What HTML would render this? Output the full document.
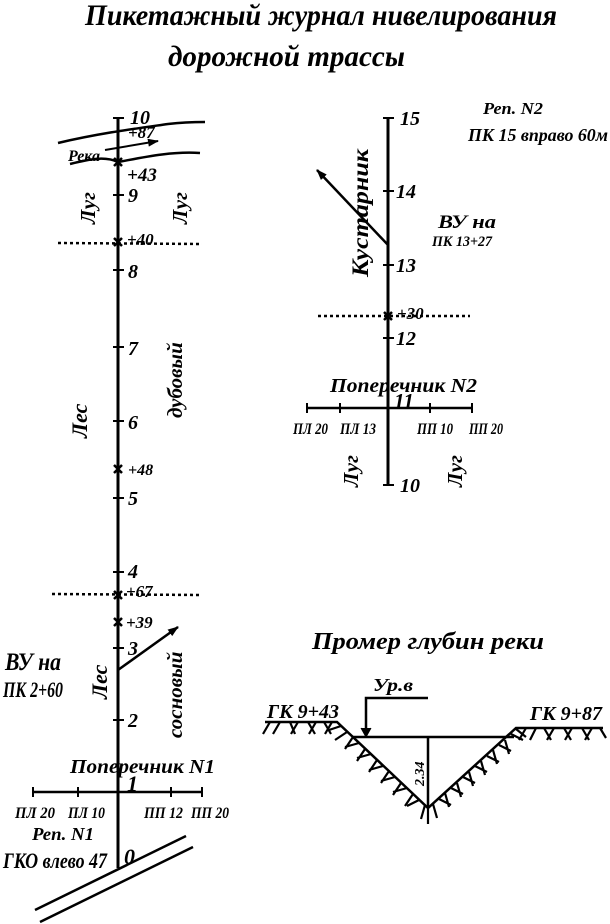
<!DOCTYPE html>
<html><head><meta charset="utf-8"><style>
html,body{margin:0;padding:0;background:#fff;}
svg{display:block;}
text{font-family:"Liberation Serif",serif;font-style:italic;font-weight:bold;fill:#000;}
</style></head><body>
<svg width="610" height="924" viewBox="0 0 610 924" xmlns="http://www.w3.org/2000/svg">
<defs><marker id="ah" markerWidth="11" markerHeight="8" refX="10" refY="4" orient="auto" markerUnits="userSpaceOnUse"><path d="M0,0 L11,4 L0,8 z" fill="#000"/></marker></defs>
<text x="85" y="25" font-size="30" textLength="472" lengthAdjust="spacingAndGlyphs">Пикетажный журнал нивелирования</text>
<text x="168" y="66" font-size="30" textLength="237" lengthAdjust="spacingAndGlyphs">дорожной трассы</text>

<g stroke="#000" fill="none">
<line x1="118" y1="118" x2="118" y2="868" stroke-width="3"/>
<g stroke-width="2">
<line x1="113" y1="118" x2="124" y2="118"/>
<line x1="113" y1="195" x2="124" y2="195"/>
<line x1="113" y1="270" x2="124" y2="270"/>
<line x1="113" y1="347" x2="124" y2="347"/>
<line x1="113" y1="421" x2="124" y2="421"/>
<line x1="113" y1="498" x2="124" y2="498"/>
<line x1="113" y1="572" x2="124" y2="572"/>
<line x1="113" y1="648" x2="124" y2="648"/>
<line x1="113" y1="720" x2="124" y2="720"/>
</g>
<g stroke-width="2.5">
<path d="M114,158 l8,8 M122,158 l-8,8"/>
<path d="M114,238 l8,8 M122,238 l-8,8"/>
<path d="M114,465 l8,8 M122,465 l-8,8"/>
<path d="M114,591 l8,8 M122,591 l-8,8"/>
<path d="M114,618 l8,8 M122,618 l-8,8"/>
</g>
<path d="M58,143 C100,133 140,128 168,124 C185,122 198,122 205,122" stroke-width="2.5"/>
<path d="M70,164 C90,159 105,156 118,162 C140,158 170,151 200,153" stroke-width="2.5"/>
<line x1="105" y1="150" x2="158" y2="141" stroke-width="2" marker-end="url(#ah)"/>
<line x1="58" y1="243" x2="202" y2="244" stroke-width="2.5" stroke-dasharray="3,3"/>
<line x1="52" y1="594" x2="200" y2="595" stroke-width="2.5" stroke-dasharray="3,3"/>
<line x1="118" y1="670" x2="178" y2="627" stroke-width="2.5" marker-end="url(#ah)"/>
<line x1="33" y1="792" x2="202" y2="792" stroke-width="2.5"/>
<g stroke-width="2"><line x1="33" y1="787" x2="33" y2="797"/><line x1="78" y1="787" x2="78" y2="797"/><line x1="171" y1="787" x2="171" y2="797"/><line x1="202" y1="787" x2="202" y2="797"/></g>
<line x1="35" y1="910" x2="186" y2="836" stroke-width="2.5"/>
<line x1="40" y1="922" x2="193" y2="847" stroke-width="2.5"/>

<line x1="388" y1="118" x2="388" y2="485" stroke-width="3"/>
<g stroke-width="2">
<line x1="383" y1="118" x2="394" y2="118"/>
<line x1="383" y1="191" x2="394" y2="191"/>
<line x1="383" y1="265" x2="394" y2="265"/>
<line x1="383" y1="338" x2="394" y2="338"/>
<line x1="383" y1="485" x2="394" y2="485"/>
<path d="M384,312 l8,8 M392,312 l-8,8" stroke-width="2.5"/>
</g>
<line x1="318" y1="316" x2="470" y2="316" stroke-width="2.5" stroke-dasharray="3,3"/>
<line x1="388" y1="245" x2="317" y2="170" stroke-width="2.5" marker-end="url(#ah)"/>
<line x1="307" y1="408" x2="472" y2="408" stroke-width="2.5"/>
<g stroke-width="2"><line x1="307" y1="403" x2="307" y2="413"/><line x1="340" y1="403" x2="340" y2="413"/><line x1="430" y1="403" x2="430" y2="413"/><line x1="472" y1="403" x2="472" y2="413"/></g>

<g stroke-width="2.5">
<polyline points="265,722 337,722 428,808 516,728 603,728"/>
<line x1="353" y1="737" x2="514" y2="737"/>
<line x1="428" y1="737" x2="428" y2="808"/>
<polyline points="428,698 366,698 366,732"/>
</g>
<path d="M361,728 L366,737 L371,728" fill="#000" stroke-width="1"/>
<g stroke-width="2.2">
<path d="M270,722 l-7,12 M280,722 l-7,12 M290,722 l5,12 M298,722 l-7,12 M308,722 l7,12 M316,722 l-7,12 M324,722 l7,12 M332,722 l-7,12"/>
<path d="M341,726 l-12,4 M347,732 l-12,8 M353,737 l-8,12 M359,743 l-14,4 M365,749 l-8,12 M371,754 l-14,4 M377,760 l-8,12 M383,766 l-14,4 M389,771 l-8,12 M395,777 l-14,4 M401,783 l-8,12 M407,788 l-14,4 M413,794 l-8,12 M419,800 l-12,6 M425,805 l-4,14"/>
<path d="M428,808 l0,16 M433,804 l4,14 M439,799 l12,6 M445,793 l4,14 M451,788 l12,6 M457,783 l4,14 M463,777 l12,6 M469,772 l4,14 M475,766 l12,6 M481,761 l4,14 M487,756 l12,6 M493,750 l4,14 M499,745 l12,6 M505,740 l4,14 M511,734 l12,6 M516,729 l10,8"/>
<path d="M526,728 l-7,12 M536,728 l-6,12 M544,728 l7,12 M554,728 l-7,12 M564,728 l7,12 M572,728 l-7,12 M582,728 l7,12 M592,728 l-7,12 M600,728 l6,10"/>
</g>
</g>

<text x="130" y="124" font-size="20">10</text>
<text x="128" y="138" font-size="17">+87</text>
<text x="127" y="181" font-size="19">+43</text>
<text x="128" y="202" font-size="20">9</text>
<text x="127" y="245" font-size="17">+40</text>
<text x="128" y="278" font-size="20">8</text>
<text x="128" y="355" font-size="20">7</text>
<text x="128" y="429" font-size="20">6</text>
<text x="128" y="475" font-size="16">+48</text>
<text x="128" y="505" font-size="20">5</text>
<text x="128" y="578" font-size="20">4</text>
<text x="126" y="597" font-size="17">+67</text>
<text x="126" y="628" font-size="17">+39</text>
<text x="128" y="655" font-size="20">3</text>
<text x="128" y="727" font-size="20">2</text>
<text x="127" y="791" font-size="22">1</text>
<text x="124" y="864" font-size="22">0</text>
<text x="68" y="161" font-size="16">Река</text>
<text font-size="21" transform="translate(95,224) rotate(-90)">Луг</text>
<text font-size="21" transform="translate(187,224) rotate(-90)">Луг</text>
<text font-size="22" transform="translate(87,438) rotate(-90)">Лес</text>
<text font-size="21" transform="translate(182,418) rotate(-90)">дубовый</text>
<text font-size="22" transform="translate(107,699) rotate(-90)">Лес</text>
<text font-size="21" transform="translate(182,738) rotate(-90)">сосновый</text>
<text x="5" y="670" font-size="25" textLength="56" lengthAdjust="spacingAndGlyphs">ВУ на</text>
<text x="3" y="697" font-size="22" font-style="normal" textLength="60" lengthAdjust="spacingAndGlyphs">ПК 2+60</text>
<text x="70" y="773" font-size="20" textLength="145" lengthAdjust="spacingAndGlyphs">Поперечник N1</text>
<text x="15" y="818" font-size="16" textLength="40" lengthAdjust="spacingAndGlyphs">ПЛ 20</text>
<text x="68" y="818" font-size="16" textLength="37" lengthAdjust="spacingAndGlyphs">ПЛ 10</text>
<text x="144" y="818" font-size="16" textLength="39" lengthAdjust="spacingAndGlyphs">ПП 12</text>
<text x="191" y="818" font-size="16" textLength="38" lengthAdjust="spacingAndGlyphs">ПП 20</text>
<text x="32" y="840" font-size="18" textLength="62" lengthAdjust="spacingAndGlyphs">Реп. N1</text>
<text x="3" y="868" font-size="22" textLength="104" lengthAdjust="spacingAndGlyphs">ГКО влево 47</text>

<text x="400" y="125" font-size="20">15</text>
<text x="396" y="198" font-size="20">14</text>
<text x="396" y="272" font-size="20">13</text>
<text x="397" y="319" font-size="17">+30</text>
<text x="396" y="345" font-size="20">12</text>
<text x="394" y="408" font-size="21">11</text>
<text x="400" y="492" font-size="20">10</text>
<text x="483" y="114" font-size="17" textLength="60" lengthAdjust="spacingAndGlyphs">Реп. N2</text>
<text x="468" y="141" font-size="18" textLength="140" lengthAdjust="spacingAndGlyphs">ПК 15 вправо 60м</text>
<text x="438" y="228" font-size="19" textLength="58" lengthAdjust="spacingAndGlyphs">ВУ на</text>
<text x="432" y="246" font-size="15" textLength="60" lengthAdjust="spacingAndGlyphs">ПК 13+27</text>
<text font-size="23" transform="translate(368,277) rotate(-90)" textLength="128" lengthAdjust="spacingAndGlyphs">Кустарник</text>
<text x="330" y="392" font-size="20" textLength="147" lengthAdjust="spacingAndGlyphs">Поперечник N2</text>
<text x="293" y="434" font-size="16" textLength="35" lengthAdjust="spacingAndGlyphs">ПЛ 20</text>
<text x="340" y="434" font-size="16" textLength="36" lengthAdjust="spacingAndGlyphs">ПЛ 13</text>
<text x="417" y="434" font-size="16" textLength="36" lengthAdjust="spacingAndGlyphs">ПП 10</text>
<text x="469" y="434" font-size="16" textLength="34" lengthAdjust="spacingAndGlyphs">ПП 20</text>
<text font-size="21" transform="translate(358,487) rotate(-90)">Луг</text>
<text font-size="21" transform="translate(462,487) rotate(-90)">Луг</text>

<text x="312" y="649" font-size="24" textLength="232" lengthAdjust="spacingAndGlyphs">Промер глубин реки</text>
<text x="373" y="691" font-size="18" textLength="40" lengthAdjust="spacingAndGlyphs">Ур.в</text>
<text x="267" y="718" font-size="20" font-style="normal" textLength="72" lengthAdjust="spacingAndGlyphs">ГК 9+43</text>
<text x="530" y="720" font-size="20" font-style="normal" textLength="72" lengthAdjust="spacingAndGlyphs">ГК 9+87</text>
<text font-size="14" font-style="normal" transform="translate(424,786) rotate(-90)">2.34</text>
</svg>
</body></html>
